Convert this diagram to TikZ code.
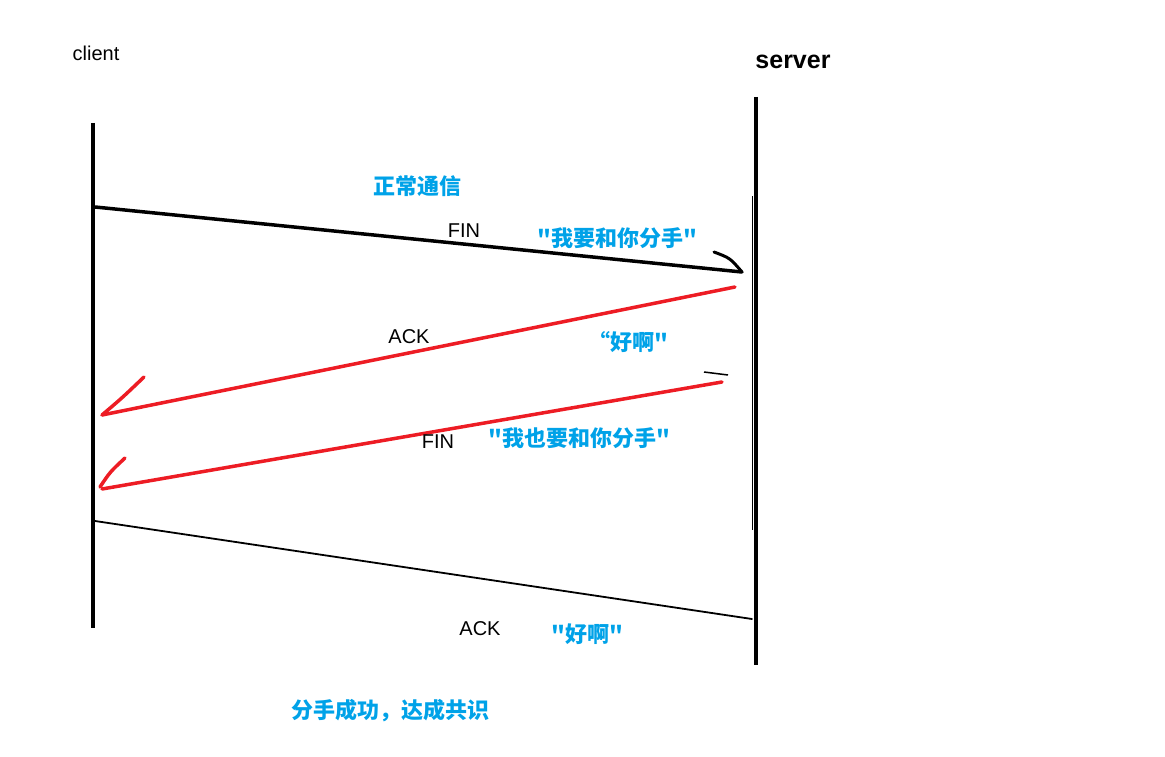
\documentclass[tikz,border=0pt]{standalone}
\usepackage{fontspec}
\setmainfont{Liberation Sans}
\newfontfamily\cjk{Noto Sans CJK SC}
\definecolor{pblue}{RGB}{0,162,232}
\definecolor{pred}{RGB}{237,28,36}
\begin{document}
\begin{tikzpicture}[x=1pt,y=-1pt,
  lbl/.style={font=\fontsize{20}{22}\selectfont, inner sep=0pt, anchor=center},
  cn/.style={font=\cjk\bfseries\fontsize{22}{24}\selectfont, text=pblue, inner sep=0pt, anchor=center},
  life/.style={line width=4pt, black},
  msgb/.style={line width=3.5pt, black, line cap=round},
  msgr/.style={line width=3.5pt, pred, line cap=round},
  msgt/.style={line width=1.8pt, black, line cap=round}]
\useasboundingbox (0,0) rectangle (1165,757);
% lifelines
\coordinate (c1) at (93,123);
\coordinate (c2) at (93,628);
\coordinate (s1) at (756,97);
\coordinate (s2) at (756,665);
\draw[life] (c1) -- (c2);
\draw[life] (s1) -- (s2);
\coordinate (sthin1) at (752,196);
\coordinate (sthin2) at (752,530);
\draw[line width=1pt] (sthin1) -- (sthin2);
% message 1: FIN (black)
\coordinate (m1a) at (95,207);
\coordinate (m1b) at (742,272);
\coordinate (m1h) at (714,252);
\draw[msgb] (m1a) -- (m1b);
\draw[line width=3pt, line cap=round] (m1h) .. controls (730,258) .. (m1b);
% message 2: ACK (red)
\coordinate (m2a) at (735,287);
\coordinate (m2b) at (102,415);
\coordinate (m2h) at (144,377);
\draw[msgr] (m2a) -- (m2b);
\draw[msgr] (m2b) .. controls (122,398) .. (m2h);
% message 3: FIN (red)
\coordinate (m3a) at (722,382);
\coordinate (m3b) at (102,489);
\coordinate (m3h) at (125,458);
\coordinate (m3d1) at (704,372);
\coordinate (m3d2) at (728,375);
\draw[line width=1.5pt] (m3d1) -- (m3d2);
\draw[msgr] (m3a) -- (m3b);
\draw[msgr] (100,487) .. controls (110,472) .. (m3h);
% message 4: ACK (thin black)
\coordinate (m4a) at (95,521);
\coordinate (m4b) at (752,619);
\draw[msgt] (m4a) -- (m4b);
% labels
\node[lbl, font=\fontsize{20}{22}\selectfont] (client) at (96,53) {client};
\node[lbl, font=\bfseries\fontsize{25}{27}\selectfont] (server) at (793,62) {server};
\node[cn] (normal) at (417,186) {正常通信};
\node[lbl] (fin1) at (464,231) {FIN};
\node[cn] (say1) at (617,238) {"我要和你分手"};
\node[lbl] (ack1) at (409,337) {ACK};
\node[cn] (say2) at (628,342) {“好啊"};
\node[lbl] (fin2) at (438,442) {FIN};
\node[cn] (say3) at (579,438) {"我也要和你分手"};
\node[lbl] (ack2) at (480,629) {ACK};
\node[cn] (say4) at (587,634) {"好啊"};
\node[cn] (done) at (390,711) {分手成功，达成共识};
\end{tikzpicture}
\end{document}
